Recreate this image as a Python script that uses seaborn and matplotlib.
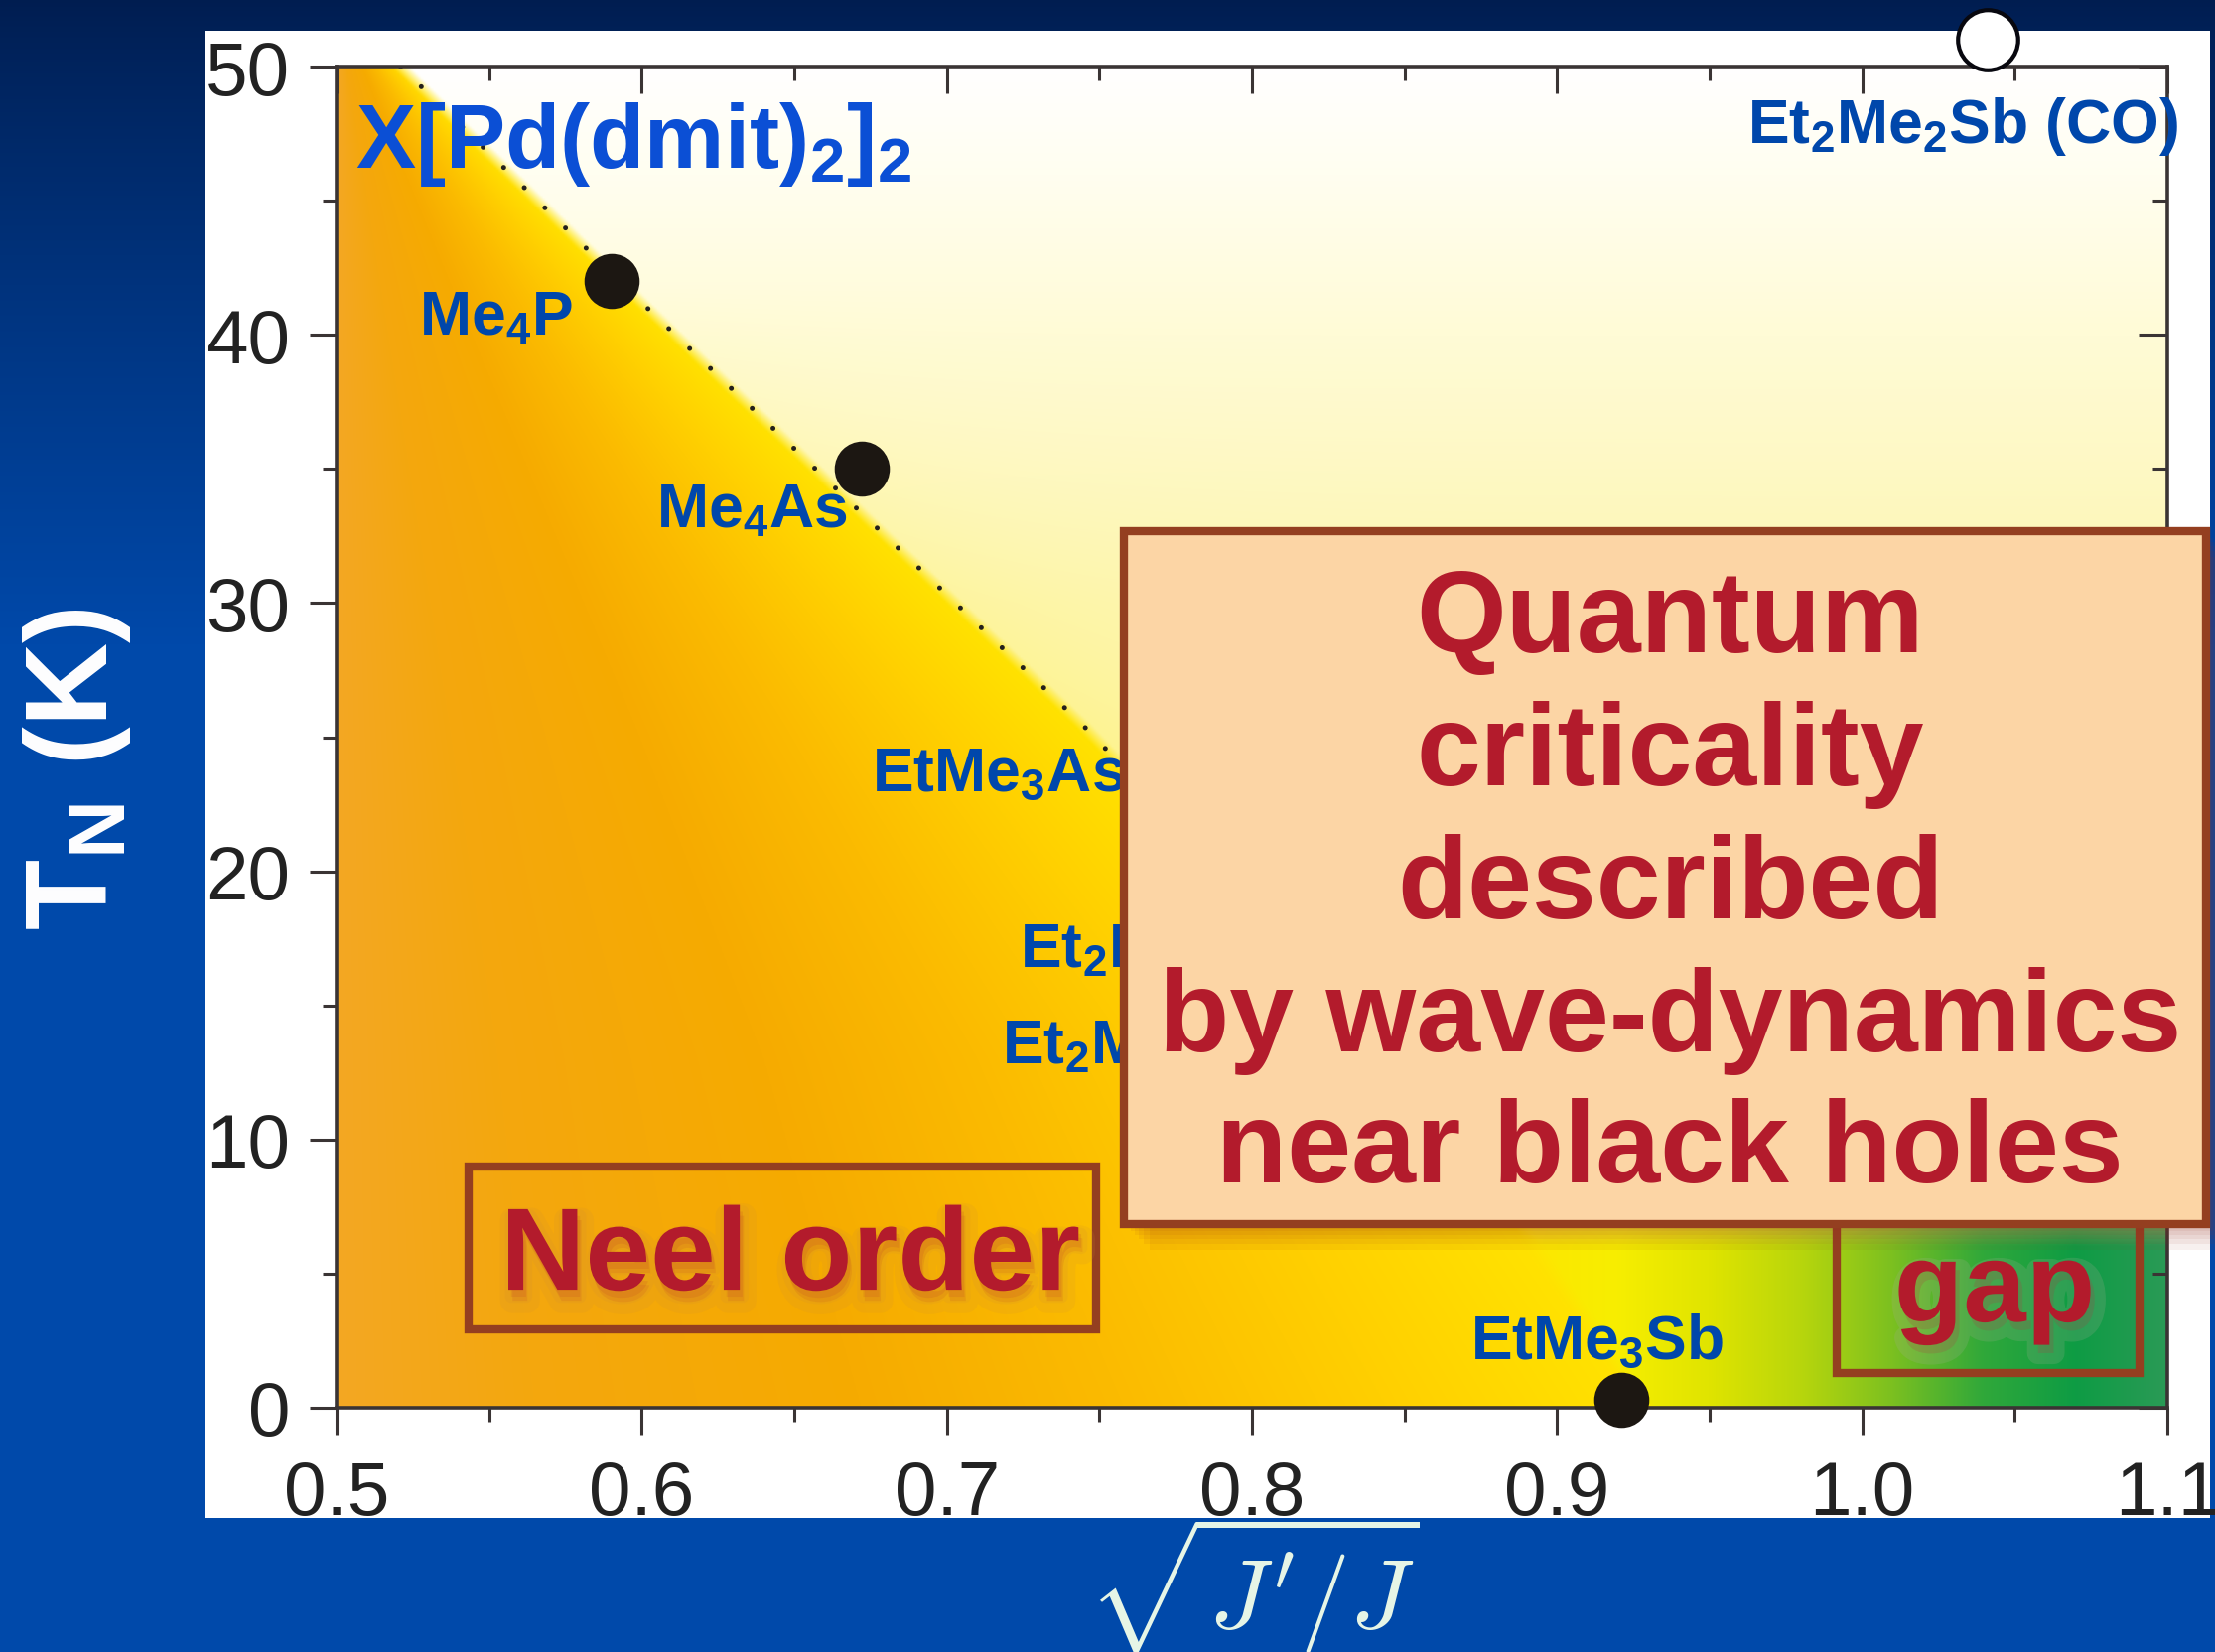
import numpy as np
import pandas as pd
import matplotlib
matplotlib.use("Agg")
import matplotlib.pyplot as plt
import matplotlib.patheffects as pe
from matplotlib.patches import Rectangle
from matplotlib.ticker import MultipleLocator
from matplotlib.colors import to_rgb
import seaborn as sns

# ---------------- data ----------------
compounds = ["Me$_4$P", "Me$_4$As", "EtMe$_3$Sb"]
ratio = [0.590, 0.672, 0.921]          # sqrt(J'/J)
neel_temp = [42.0, 35.0, 0.3]          # T_N (K)

co_compound = ["Et$_2$Me$_2$Sb (CO)"]
co_ratio = [1.041]
co_temp = [51.0]

# Neel-order phase boundary (dotted line drawn over its upper part)
boundary_ratio = [0.521, 0.600, 0.690, 0.745, 0.850, 0.930]
boundary_temp = [50.0, 41.2, 31.4, 25.4, 13.0, 0.0]
n_dotted = 5

xticks = [0.5, 0.6, 0.7, 0.8, 0.9, 1.0, 1.1]
xtick_labels = ["0.5", "0.6", "0.7", "0.8", "0.9", "1.0", "1.1"]
yticks = [0, 10, 20, 30, 40, 50]
ytick_labels = ["0", "10", "20", "30", "40", "50"]

# compound labels: text, anchor x, anchor y, horizontal alignment
label_text = ["Me$_4$P", "Me$_4$As", "EtMe$_3$As", "Et$_2$Me$_2$P", "Et$_2$Me$_2$As",
              "EtMe$_3$Sb", "Et$_2$Me$_2$Sb (CO)"]
label_x = [0.5774, 0.6673, 0.6754, 0.7239, 0.7180, 0.8716, 0.9624]
label_y = [40.04, 32.86, 23.02, 16.47, 12.88, 1.85, 47.19]
label_ha = ["right", "right", "left", "left", "left", "left", "left"]

title_text = "X[Pd(dmit)$_2$]$_2$"
box_lines = ["Quantum", "criticality", "described", "by wave-dynamics", "near black holes"]
box_line_y = [28.20, 23.24, 18.28, 13.32, 8.44]

# ---------------- style ----------------
sns.set_theme(style="ticks")
plt.rcParams["font.family"] = ["Liberation Sans", "DejaVu Sans"]
plt.rcParams["mathtext.fontset"] = "custom"
plt.rcParams["mathtext.rm"] = "Liberation Sans:bold"
plt.rcParams["mathtext.it"] = "Liberation Sans:italic:bold"
plt.rcParams["mathtext.bf"] = "Liberation Sans:bold"

W, H = 2231, 1665
fig = plt.figure(figsize=(W / 100, H / 100), dpi=100)

# slide background: navy to blue vertical gradient
rows = np.arange(H)
t = np.clip(rows / 650.0, 0, 1) ** 0.85
navy = np.array(to_rgb("#001d50"))
blue = np.array(to_rgb("#0049aa"))
grad = (navy[None, :] * (1 - t[:, None]) + blue[None, :] * t[:, None])[:, None, :]

bg = fig.add_axes([0, 0, 1, 1], zorder=-10)
bg.imshow(grad, extent=[0, 1, 0, 1], aspect="auto", origin="upper")
bg.add_patch(Rectangle((206 / W, 1 - 1530 / H), (2226 - 206) / W, (1530 - 32) / H,
                       facecolor="white", edgecolor="none"))
bg.set_xlim(0, 1)
bg.set_ylim(0, 1)
bg.set_axis_off()

# blue strip under the white panel
strip_h = (H - 1530) / H
strip = fig.add_axes([0, 0, 1, strip_h], zorder=5)
strip.imshow(grad[1530:], extent=[0, 1, 0, 1], aspect="auto", origin="upper")
strip.set_xlim(0, 1)
strip.set_ylim(0, 1)
strip.set_axis_off()

# ---------------- main axes ----------------
ax = fig.add_axes([339 / W, (H - 1419) / H, 1844 / W, 1351 / H], zorder=1)
ax.set_xlim(0.5, 1.1)
ax.set_ylim(0, 50)


def ramp(v, stops):
    pos = np.array([p for p, _ in stops])
    cols = np.array([to_rgb(c) for _, c in stops])
    return np.stack([np.interp(v, pos, cols[:, k]) for k in range(3)], axis=-1)


gx = np.linspace(0.5, 1.1, 721)
gy = np.linspace(0, 50, 601)
X, Y = np.meshgrid(gx, gy)
xb = np.interp(Y, boundary_temp[::-1], boundary_ratio[::-1])

u = np.clip((X - 0.5) / (xb - 0.5), 0, 1)
ordered = ramp(u, [(0.0, "#f3a823"), (0.15, "#f4a70e"), (0.4, "#f6ab00"),
                   (0.6, "#fbbb00"), (0.8, "#ffcf00"), (0.93, "#ffdc00"), (1.0, "#ffe300")])

pale = ramp(Y, [(0, "#fcf290"), (20, "#fcf4a2"), (30, "#fdf6b2"), (40, "#fffbd6"),
                (46, "#fffef0"), (50, "#ffffff")])
band = np.exp(-np.clip(X - xb, 0, None) / 0.05) * np.clip((42 - Y) / 20, 0, 1) * 0.5
pale = pale * (1 - band[..., None]) + np.array(to_rgb("#fff170")) * band[..., None]

low = ramp(X, [(0.88, "#ffe400"), (0.92, "#f7ee00"), (0.95, "#e0e400"), (0.98, "#b8d60c"),
               (1.01, "#7cc020"), (1.04, "#30a83a"), (1.07, "#0e9c44"), (1.1, "#2a9a56")])
w = np.clip((9 - Y) / 3, 0, 1)[..., None]
disordered = pale * (1 - w) + low * w

s = np.clip((X - xb) / 0.006 + 0.5, 0, 1)[..., None]
field = ordered * (1 - s) + disordered * s
ax.imshow(field, extent=[0.5, 1.1, 0, 50], origin="lower", aspect="auto",
          interpolation="bilinear", zorder=0)

# phase boundary (dotted)
ax.plot(boundary_ratio[:n_dotted], boundary_temp[:n_dotted], color="#24201c",
        linewidth=3.6, linestyle=(0, (0.01, 5.8)), dash_capstyle="round", zorder=2)

# compounds with antiferromagnetic order (filled) and charge order (open)
dots = pd.DataFrame({"ratio": ratio, "tn": neel_temp, "name": compounds})
sns.scatterplot(data=dots, x="ratio", y="tn", s=1600, color="#1c1712", edgecolor="#1c1712",
                linewidth=0, ax=ax, zorder=4, clip_on=False, legend=False)
sns.scatterplot(x=co_ratio, y=co_temp, s=1900, color="white", edgecolor="#08080f",
                linewidth=3.0, ax=ax, zorder=12, clip_on=False, legend=False)

ax.set_xlabel("")
ax.set_ylabel("")

# ticks: outward on bottom/left, inward on top/right
tick_col = "#3a3434"
ax.set_xticks(xticks)
ax.set_xticklabels(xtick_labels)
ax.set_yticks(yticks)
ax.set_yticklabels(ytick_labels)
ax.xaxis.set_minor_locator(MultipleLocator(0.05))
ax.yaxis.set_minor_locator(MultipleLocator(5))
ax.tick_params(which="both", direction="out", top=False, right=False, color=tick_col,
               width=2.2, labelsize=55, labelcolor="#222222")
ax.tick_params(which="major", length=19.5)
ax.tick_params(which="minor", length=10)
ax.tick_params(axis="x", which="major", pad=18)
ax.tick_params(axis="y", which="major", pad=14)
for sp in ax.spines.values():
    sp.set_color(tick_col)
    sp.set_linewidth(2.6)
    sp.set_zorder(3)

top = ax.secondary_xaxis("top")
top.set_xticks(xticks)
top.xaxis.set_minor_locator(MultipleLocator(0.05))
top.tick_params(which="both", direction="in", labeltop=False, color=tick_col, width=2.2)
top.tick_params(which="major", length=19.5)
top.tick_params(which="minor", length=10)
top.spines["top"].set_visible(False)

right = ax.secondary_yaxis("right")
right.set_yticks(yticks)
right.yaxis.set_minor_locator(MultipleLocator(5))
right.tick_params(which="both", direction="in", labelright=False, color=tick_col, width=2.2)
right.tick_params(which="major", length=21)
right.tick_params(which="minor", length=10.5)
right.spines["right"].set_visible(False)

# ---------------- text ----------------
ax.text(0.5062, 46.26, title_text, fontsize=65, fontweight="bold", color="#0b4fd5",
        ha="left", va="baseline", zorder=6, clip_on=False)
for txt, lx, ly, ha in zip(label_text, label_x, label_y, label_ha):
    ax.text(lx, ly, txt, fontsize=45, fontweight="bold", color="#0047ab",
            ha=ha, va="baseline", zorder=6, clip_on=False)

edge = "#943f20"
crimson = "#b31b2c"

# Neel order box
ax.add_patch(Rectangle((0.5433, 2.92), 0.2056, 6.07, facecolor="none", edgecolor=edge,
                       linewidth=6, zorder=5, clip_on=False))
ax.text(0.6487, 4.40, "Neel order", fontsize=85, fontweight="bold", color=crimson,
        ha="center", va="baseline", zorder=6,
        path_effects=[pe.Stroke(offset=(3, -8), linewidth=18, foreground="#c98a3c", alpha=0.12),
                      pe.Stroke(offset=(2, -5), linewidth=9, foreground="#c98a3c", alpha=0.12),
                      pe.Normal()])

# gap box
ax.add_patch(Rectangle((0.9917, 1.29), 0.0992, 7.2, facecolor="none", edgecolor=edge,
                       linewidth=6, zorder=5, clip_on=False))
ax.text(1.0434, 3.22, "gap", fontsize=82, fontweight="bold", color=crimson,
        ha="center", va="baseline", zorder=6,
        path_effects=[pe.Stroke(offset=(3, -6), linewidth=16, foreground="#a8ae98", alpha=0.2),
                      pe.Normal()])

# quantum criticality box with soft shadow
bx0, by0, bx1, by1 = 0.758, 6.85, 1.1127, 32.68
for k, off in enumerate([3, 7, 11, 15, 20, 26]):
    ax.add_patch(Rectangle((bx0 + off / 3073.0, by0 - off / 27.0), bx1 - bx0, by1 - by0,
                           facecolor="#9a3020", edgecolor="none", alpha=0.07,
                           zorder=7, clip_on=False))
ax.add_patch(Rectangle((bx0, by0), bx1 - bx0, by1 - by0, facecolor="#fcd5a5", edgecolor=edge,
                       linewidth=6, zorder=8, clip_on=False))
for line, ly in zip(box_lines, box_line_y):
    ax.text(0.937, ly, line, fontsize=84, fontweight="bold", color=crimson,
            ha="center", va="baseline", zorder=9, clip_on=False)

# axis titles
fig.text(78 / W, (H - 775) / H, "T$_\\mathrm{N}$ (K)", rotation=90, fontsize=84,
         fontweight="bold", color="white", ha="center", va="center", zorder=10)
fig.text(1262 / W, (H - 1641) / H, r"$\sqrt{J'/J}$", fontsize=72, color="#e6f5e6",
         ha="center", va="baseline", zorder=10, math_fontfamily="cm")

fig.savefig("out.png", dpi=100)
